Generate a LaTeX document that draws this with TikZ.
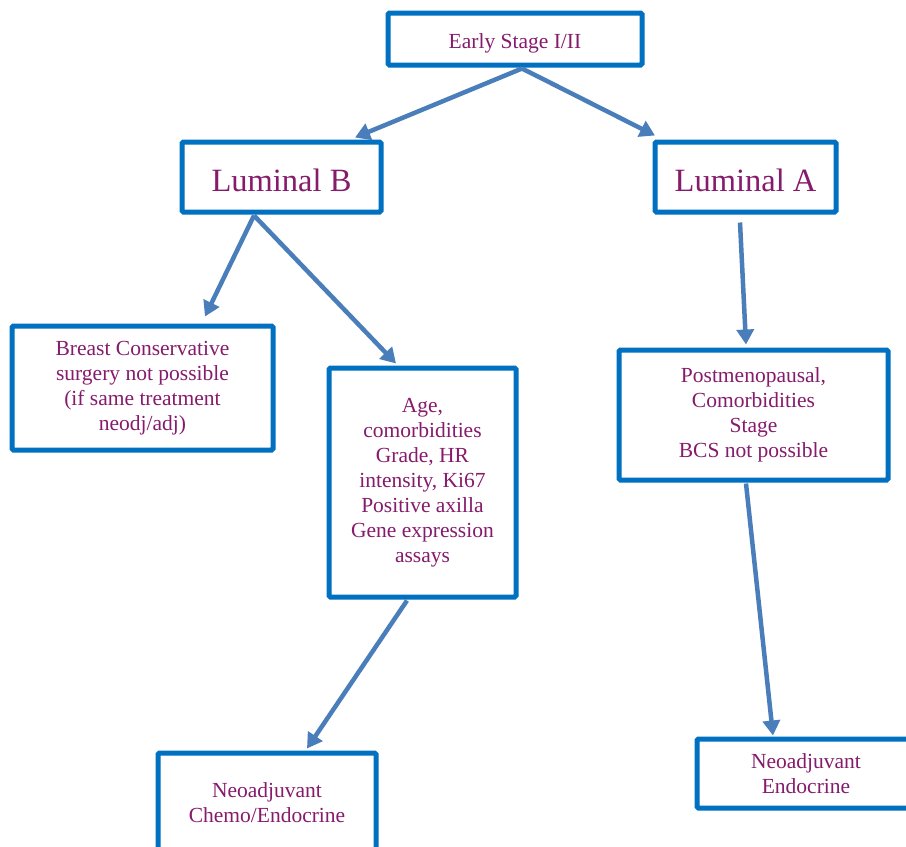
\documentclass[tikz,border=0pt]{standalone}
\usepackage{fontspec}
\setmainfont{Liberation Serif}
\usetikzlibrary{arrows.meta,calc}
\definecolor{boxblue}{RGB}{0,112,192}
\definecolor{arrowblue}{RGB}{74,126,187}
\definecolor{txtpurple}{RGB}{134,27,108}
\tikzset{
  boxnode/.style={draw=boxblue, line width=5pt, rounded corners=1.5pt, fill=white,
    text=txtpurple, align=center, inner sep=0pt,
    font=\fontsize{21.5}{25}\selectfont},
  bigtext/.style={font=\fontsize{32.5}{36}\selectfont, text height=28pt, text depth=0pt},
  conn/.style={draw=arrowblue, line width=4.5pt,
    -{Triangle[length=15pt,width=17pt]}, shorten <=0pt}
}
\begin{document}
\begin{tikzpicture}[x=1pt,y=-1pt]
\useasboundingbox (0,0) rectangle (906,847);
\clip (0,0) rectangle (906,847);
\fill[white] (0,0) rectangle (906,847);
% boxes
\node[boxnode, minimum width=254pt, minimum height=52pt, text height=18pt, text depth=0pt] (es) at (515,39) {Early Stage I/II};
\node[boxnode, bigtext, minimum width=199pt, minimum height=70pt] (lb) at (281.5,177) {Luminal B};
\node[boxnode, bigtext, minimum width=181pt, minimum height=70pt] (la) at (745.5,177) {Luminal A};
\node[boxnode, minimum width=261pt, minimum height=124pt] (bcs) at (142.5,388) {Breast Conservative\\surgery not possible\\(if same treatment\\neodj/adj)};
\node[boxnode, minimum width=187pt, minimum height=229pt] (age) at (422.5,482.5) {Age,\\comorbidities\\Grade, HR\\intensity, Ki67\\Positive axilla\\Gene expression\\assays};
\node[boxnode, minimum width=269pt, minimum height=130pt] (pm) at (753.5,415) {Postmenopausal,\\Comorbidities\\Stage\\BCS not possible};
\node[boxnode, minimum width=218pt, minimum height=100pt] (nce) at (267,803) {Neoadjuvant\\Chemo/Endocrine};
\node[boxnode, minimum width=218pt, minimum height=69pt] (ne) at (806,773.5) {Neoadjuvant\\Endocrine};
% connector end points
\coordinate (laout) at ($(la.south)+(-5.5,8)$);
% connectors
\draw[conn] ($(es.south)+(7,1)$) -- ($(lb.north)+(73.5,-2)$);
\draw[conn] ($(es.south)+(7,1)$) -- ($(la.north)+(-90.5,-4)$);
\draw[conn] ($(lb.south)+(-27.5,1)$) -- ($(bcs.north)+(62.5,-7)$);
\draw[conn] ($(lb.south)+(-27.5,1)$) -- ($(age.north)+(-26.5,-2)$);
\draw[conn] (laout) -- ($(pm.north)+(-7.5,-3)$);
\draw[conn] ($(pm.south)+(-7.5,1)$) -- ($(ne.north)+(-33,-1)$);
\draw[conn] ($(age.south)+(-15.5,1)$) -- ($(nce.north)+(40,-2)$);
\end{tikzpicture}
\end{document}
